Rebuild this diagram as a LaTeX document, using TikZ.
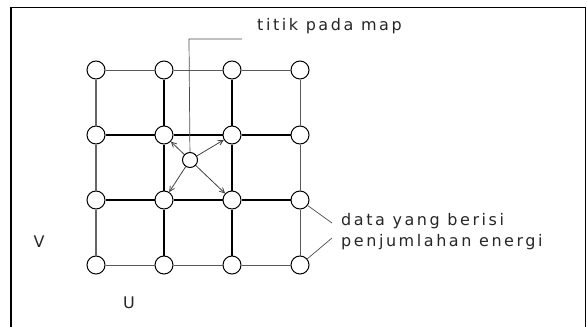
\documentclass[tikz,border=0pt]{standalone}
\usepackage{fontspec}
\newfontfamily\lblfont[LetterSpace=16]{DejaVu Sans}
\usetikzlibrary{arrows.meta}
\begin{document}
\begin{tikzpicture}[x=1pt,y=-1pt,
  dot/.style={circle,draw=black,fill=white,minimum size=18pt,inner sep=0pt,line width=1pt},
  thick line/.style={line width=1.4pt,black},
  thin line/.style={line width=0.9pt,black!65},
  lead/.style={line width=0.7pt,black!70},
  arr/.style={line width=0.8pt,black!75,-{Straight Barb[length=5pt,width=5pt]}},
  lbl/.style={font=\lblfont\fontsize{16}{21}\selectfont,inner sep=0pt,text=black!85}]
\useasboundingbox (0,0) rectangle (587,327);
% frame
\draw[line width=1.2pt] (11,335) -- (11,7.5) -- (585.5,7.5) -- (585.5,335);
% grid nodes
\foreach \c/\x in {1/96,2/164,3/232,4/300}{
  \foreach \r/\y in {1/70,2/135,3/200,4/265}{
    \node[dot] (g\r\c) at (\x,\y) {};
  }
}
\node[dot,minimum size=15pt] (c) at (190,160) {};
% horizontal lines
\draw[thin line] (g11) -- (g12) -- (g13) -- (g14);
\draw[thick line] (g21) -- (g22) -- (g23) -- (g24);
\draw[thick line] (g31) -- (g32) -- (g33) -- (g34);
\draw[thin line] (g41) -- (g42) -- (g43) -- (g44);
% vertical lines
\draw[line width=1.6pt,black!60] (g11) -- (g21) -- (g31) -- (g41);
\draw[thick line] (g12) -- (g22) -- (g32) -- (g42);
\draw[thick line] (g13) -- (g23) -- (g33) -- (g43);
\draw[thin line] (g14) -- (g24) -- (g34) -- (g44);
% arrows from centre
\draw[arr] (c) -- (g22);
\draw[arr] (c) -- (g23);
\draw[arr] (c) -- (g32);
\draw[arr] (c) -- (g33);
% labels
\node[lbl,anchor=west] (tp) at (257,26) {titik pada map};
\coordinate (t1) at (189,39);
\coordinate (t2) at (242,39);
\draw[lead] (c) -- (t1) -- (t2);
\node[lbl,anchor=west,align=left] (de) at (341,232) {data yang berisi\\penjumlahan energi};
\coordinate (d1) at (332,223);
\coordinate (d2) at (332,238);
\draw[lead] (g34) -- (d1);
\draw[lead] (g44) -- (d2);
\node[lbl] (v) at (39,242) {V};
\node[lbl] (u) at (129,303) {U};
\end{tikzpicture}
\end{document}
